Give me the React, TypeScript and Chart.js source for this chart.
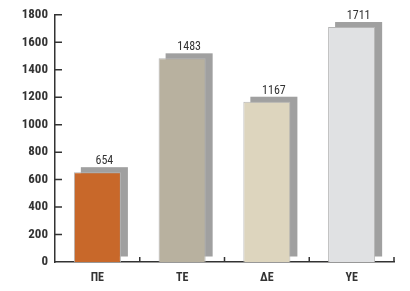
import React, { useEffect, useRef } from "react";
import { Chart, registerables } from "chart.js";

Chart.register(...registerables);

const categories = ["ΠΕ", "ΤΕ", "ΔΕ", "ΥΕ"];
const values = [654, 1483, 1167, 1711];
const barColors = ["#C8682A", "#B8B19F", "#DDD5BE", "#E0E1E3"];
const yTicks = [0, 200, 400, 600, 800, 1000, 1200, 1400, 1600, 1800];

const FONT = "'Roboto Condensed', 'DejaVu Sans Condensed', sans-serif";
const SHADOW_DX = 7;
const SHADOW_DY = -5;

const shadowPlugin = {
  id: "shadowPlugin",
  beforeDatasetsDraw(chart: any) {
    const ctx = chart.ctx;
    const meta = chart.getDatasetMeta(0);
    ctx.save();
    ctx.fillStyle = "#A0A0A0";
    meta.data.forEach((el: any) => {
      const { x, y, base, width } = el.getProps(["x", "y", "base", "width"], true);
      const left = x - width / 2 + SHADOW_DX;
      const top = y + SHADOW_DY;
      const bottom = base - 5.5;
      ctx.fillRect(left, top, width, bottom - top);
    });
    ctx.restore();
  },
  afterDatasetsDraw(chart: any) {
    const ctx = chart.ctx;
    const meta = chart.getDatasetMeta(0);
    ctx.save();
    ctx.fillStyle = "#333333";
    ctx.font = "12px " + FONT;
    ctx.textAlign = "center";
    ctx.textBaseline = "alphabetic";
    meta.data.forEach((el: any, i: number) => {
      const { x, y } = el.getProps(["x", "y"], true);
      ctx.fillText(String(values[i]), x + SHADOW_DX, y + SHADOW_DY - 3);
    });
    ctx.restore();
  },
  afterDraw(chart: any) {
    const ctx = chart.ctx;
    const ys = chart.scales.y;
    const xs = chart.scales.x;
    const area = chart.chartArea;
    ctx.save();
    ctx.strokeStyle = "#333333";
    ctx.lineWidth = 1.5;
    ctx.beginPath();
    yTicks.forEach((v) => {
      const py = ys.getPixelForValue(v);
      if (v === 0) return;
      ctx.moveTo(area.left, py);
      ctx.lineTo(area.left + 7, py);
    });
    for (let i = 0; i < categories.length; i++) {
      const px =
        i < categories.length - 1
          ? (xs.getPixelForValue(i) + xs.getPixelForValue(i + 1)) / 2
          : area.right;
      ctx.moveTo(px, area.bottom);
      ctx.lineTo(px, area.bottom - 5);
    }
    ctx.stroke();
    ctx.restore();
  },
};

export default function App() {
  const ref = useRef<HTMLCanvasElement>(null);
  useEffect(() => {
    document.body.style.margin = "0";
    const chart = new Chart(ref.current!, {
      type: "bar",
      data: {
        labels: categories,
        datasets: [
          {
            data: values,
            backgroundColor: barColors,
            borderColor: "#B5B5B5",
            borderWidth: 1,
            barPercentage: 0.555,
            categoryPercentage: 1,
          },
        ],
      },
      options: {
        animation: false,
        responsive: false,
        events: [],
        layout: { padding: { top: 10, right: 16, left: 0, bottom: 0 } },
        plugins: { legend: { display: false }, tooltip: { enabled: false } },
        scales: {
          x: {
            grid: { display: false, drawTicks: false },
            border: { display: true, color: "#333333", width: 1.5 },
            ticks: {
              color: "#333333",
              font: { family: FONT, size: 12, weight: "bold" },
              padding: 9,
            },
            afterFit(scale: any) {
              scale.height = 29;
            },
          },
          y: {
            min: 0,
            max: 1800,
            afterBuildTicks(scale: any) {
              scale.ticks = yTicks.map((v) => ({ value: v }));
            },
            grid: { display: false, drawTicks: false },
            border: { display: true, color: "#333333", width: 1.5 },
            ticks: {
              color: "#333333",
              font: { family: FONT, size: 13, weight: "bold" },
              padding: 7,
              callback: (v: any) => String(v),
            },
            afterFit(scale: any) {
              scale.width = 55;
            },
          },
        },
      },
      plugins: [shadowPlugin],
    });
    return () => chart.destroy();
  }, []);
  return (
    <div style={{ width: 410, height: 291 }}>
      <canvas ref={ref} width={410} height={291} style={{ display: "block" }} />
    </div>
  );
}
